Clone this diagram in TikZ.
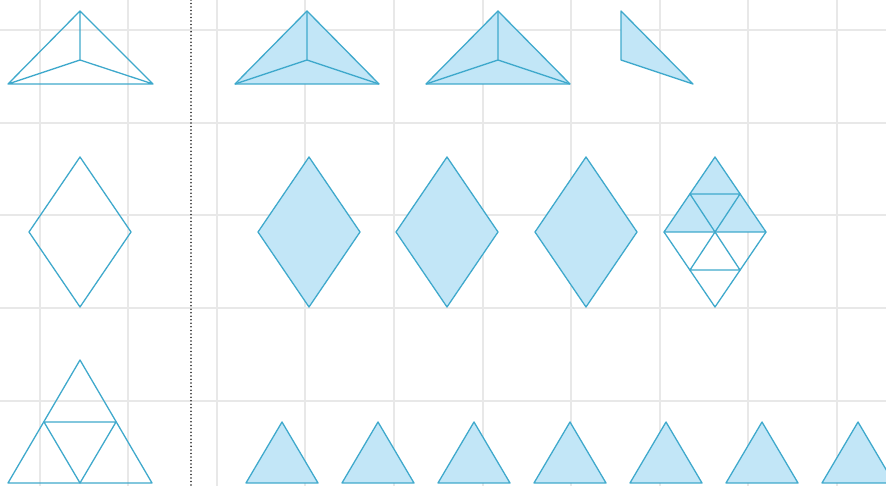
\documentclass[tikz,border=0pt]{standalone}
\usetikzlibrary{calc}
\definecolor{tileblue}{HTML}{3FA9CC}
\definecolor{tilefill}{HTML}{C2E6F7}
\definecolor{gridgray}{HTML}{E8E8E8}

\begin{document}
\begin{tikzpicture}[x=0.03cm, y=-0.03cm,
      gridln/.style={gridgray, line width=1pt},
      outl/.style={draw=tileblue, line width=1.1pt, line join=round},
      tile/.style={outl, fill=tilefill}]
    \useasboundingbox (0,0) rectangle (886,486);
    \fill[white] (0,0) rectangle (886,486);
    \foreach \x in {40,128,217,305,394,483,571,660,748,837} \draw[gridln] (\x,0) -- (\x,486);
    \foreach \y in {30,123,215,308,401} \draw[gridln] (0,\y) -- (886,\y);
    \draw[black!85, line width=1.5pt, line cap=round, dash pattern=on 0pt off 3pt] (191,0) -- (191,486);
    % top row: triangle cut into three
    \draw[outl] (80,11) -- (8,84) -- (153,84) -- cycle (80,11) -- (80,60) (8,84) -- (80,60) -- (153,84);
    \foreach \x in {307,498} {
      \draw[tile] (\x,11) -- (\x-72,84) -- (\x+72,84) -- cycle;
      \draw[outl] (\x,11) -- (\x,60) (\x-72,84) -- (\x,60) -- (\x+72,84);
    }
    \draw[tile] (621,11) -- (621,60) -- (693,84) -- cycle;
    % middle row: rhombi
    \draw[outl] (80,157) -- (131,232) -- (80,307) -- (29,232) -- cycle;
    \foreach \x in {309,447,586} \draw[tile] (\x,157) -- (\x+51,232) -- (\x,307) -- (\x-51,232) -- cycle;
    \draw[tile] (715,157) -- (766,232) -- (664,232) -- cycle;
    \draw[outl] (766,232) -- (715,307) -- (664,232);
    \draw[outl] (690,194) -- (740,194) -- (715,232) -- cycle (690,270) -- (740,270) -- (715,232) -- cycle;
    % bottom row: small triangles
    \draw[outl] (80,360) -- (152,483) -- (8,483) -- cycle;
    \draw[outl] (44,422) -- (116,422) -- (80,483) -- cycle;
    \foreach \x in {282,378,...,858} \draw[tile] (\x,422) -- (\x+36,483) -- (\x-36,483) -- cycle;
  \end{tikzpicture}
\end{document}
